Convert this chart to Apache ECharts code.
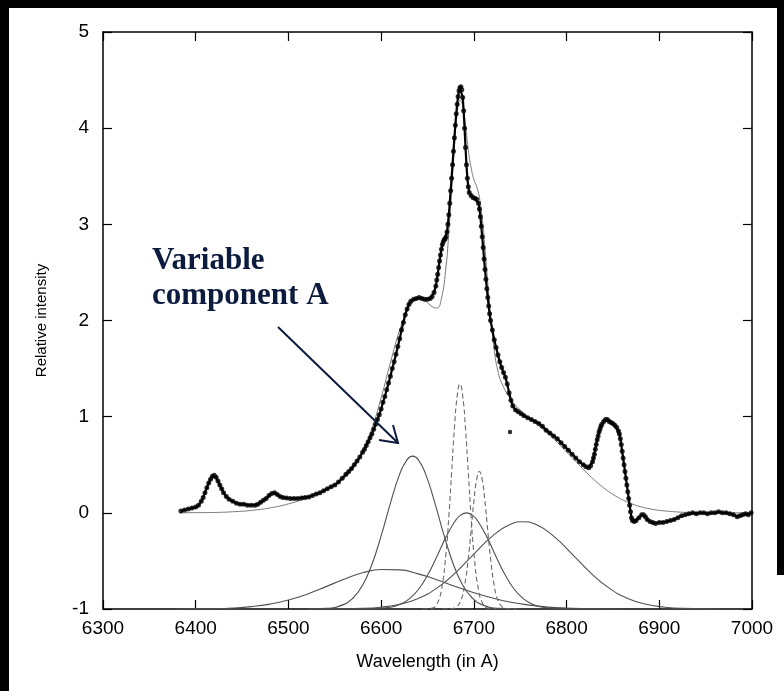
<!DOCTYPE html>
<html>
<head>
<meta charset="utf-8">
<script src="https://cdn.jsdelivr.net/npm/echarts@6/dist/echarts.min.js"></script>
<style>
  html, body { margin: 0; padding: 0; background: #000; }
  #main { width: 784px; height: 691px; }
</style>
</head>
<body>
<div id="main"></div>
<script>
// observed spectrum, [wavelength, relative intensity]
const observed = [
  [6384,0.02],[6388,0.03],[6392,0.04],[6396,0.05],[6400,0.06],[6403,0.08],[6406,0.12],[6408,0.16],
  [6410,0.21],[6412,0.26],[6414,0.31],[6416,0.35],[6418,0.38],[6420,0.39],[6422,0.37],[6424,0.33],
  [6426,0.29],[6428,0.25],[6430,0.21],[6433,0.17],[6436,0.14],[6440,0.12],[6444,0.10],[6448,0.09],
  [6452,0.09],[6456,0.08],[6460,0.08],[6464,0.08],[6467,0.09],[6470,0.11],[6473,0.13],[6476,0.15],
  [6479,0.18],[6482,0.20],[6485,0.21],[6488,0.19],[6491,0.17],[6494,0.16],[6498,0.155],[6502,0.15],
  [6506,0.15],[6510,0.15],[6514,0.155],[6518,0.16],[6522,0.165],[6526,0.18],[6530,0.195],[6534,0.21],
  [6538,0.23],[6542,0.25],[6546,0.27],[6550,0.29],[6554,0.32],[6558,0.36],[6562,0.40],[6565,0.43],
  [6568,0.46],[6571,0.50],[6574,0.54],[6577,0.58],[6580,0.63],[6582,0.66],[6584,0.70],[6586,0.74],
  [6588,0.78],[6590,0.82],[6592,0.87],[6594,0.92],[6596,0.97],[6598,1.02],[6600,1.08],[6602,1.15],
  [6604,1.21],[6606,1.28],[6608,1.35],[6610,1.42],[6612,1.50],[6614,1.57],[6616,1.65],[6618,1.73],
  [6620,1.81],[6622,1.90],[6624,1.98],[6626,2.06],[6628,2.12],[6630,2.17],[6632,2.20],[6635,2.22],
  [6638,2.23],[6641,2.24],[6644,2.23],[6647,2.22],[6650,2.22],[6653,2.23],[6655,2.25],[6657,2.29],
  [6659,2.36],[6660,2.42],[6661,2.48],[6662,2.55],[6663,2.62],[6664,2.68],[6665,2.74],[6666,2.79],
  [6667,2.82],[6668,2.84],[6669,2.85],[6670,2.87],[6671,2.92],[6672,3.00],[6673,3.10],[6674,3.22],
  [6675,3.35],[6676,3.48],[6677,3.62],[6678,3.76],[6679,3.90],[6680,4.03],[6681,4.15],[6682,4.25],
  [6683,4.33],[6684,4.39],[6685,4.42],[6686,4.43],[6687,4.40],[6688,4.32],[6689,4.18],[6690,4.00],
  [6691,3.80],[6692,3.62],[6693,3.48],[6694,3.39],[6695,3.33],[6697,3.30],[6699,3.28],[6701,3.27],
  [6703,3.26],[6705,3.22],[6706,3.16],[6707,3.08],[6708,2.98],[6709,2.87],[6710,2.76],[6711,2.64],
  [6712,2.53],[6713,2.43],[6714,2.33],[6715,2.24],[6716,2.15],[6717,2.07],[6718,2.00],[6720,1.90],
  [6722,1.80],[6724,1.72],[6726,1.64],[6728,1.57],[6730,1.51],[6732,1.46],[6734,1.41],[6736,1.34],
  [6738,1.25],[6740,1.17],[6742,1.11],[6745,1.07],[6748,1.05],[6751,1.03],[6754,1.01],[6758,0.99],
  [6762,0.97],[6766,0.95],[6770,0.93],[6774,0.90],[6778,0.86],[6782,0.83],[6786,0.80],[6790,0.77],
  [6794,0.73],[6798,0.69],[6802,0.65],[6806,0.61],[6810,0.57],[6814,0.53],[6818,0.50],[6821,0.48],
  [6824,0.47],[6826,0.49],[6828,0.53],[6829,0.57],[6830,0.61],[6831,0.66],[6832,0.71],[6833,0.76],
  [6834,0.80],[6835,0.84],[6836,0.87],[6837,0.90],[6838,0.92],[6840,0.95],[6842,0.97],[6844,0.97],
  [6846,0.95],[6848,0.94],[6850,0.93],[6852,0.91],[6854,0.89],[6856,0.85],[6857,0.82],[6858,0.77],
  [6859,0.71],[6860,0.64],[6861,0.57],[6862,0.50],[6863,0.43],[6864,0.36],[6865,0.29],[6866,0.22],
  [6867,0.15],[6868,0.08],[6869,0.01],[6870,-0.05],[6871,-0.08],[6873,-0.09],[6875,-0.08],[6878,-0.05],
  [6881,-0.02],[6883,-0.02],[6885,-0.04],[6887,-0.07],[6890,-0.09],[6893,-0.10],[6896,-0.11],[6900,-0.10],
  [6904,-0.10],[6908,-0.09],[6912,-0.08],[6916,-0.07],[6920,-0.05],[6924,-0.03],[6928,-0.02],[6932,-0.01],
  [6936,0.00],[6940,-0.01],[6944,0.00],[6948,0.00],[6952,-0.01],[6956,0.00],[6960,0.00],[6964,0.01],
  [6968,0.00],[6972,0.00],[6976,-0.01],[6980,-0.02],[6984,-0.04],[6987,-0.03],[6990,-0.02],[6993,-0.01],
  [6996,-0.02],[6999,0.00]
];
const outlier = [[6739, 0.84]];

// total fit
const fitCurve = [
  [6383,0.0],[6400,0.002],[6420,0.004],[6440,0.011],[6460,0.025],[6480,0.051],[6500,0.093],[6520,0.155],
  [6540,0.236],[6560,0.36],[6570,0.467],[6580,0.631],[6590,0.874],[6600,1.197],[6610,1.562],[6620,1.902],
  [6628,2.1],[6634,2.189],[6640,2.223],[6648,2.198],[6655,2.144],[6660,2.13],[6665,2.226],[6670,2.567],
  [6673,2.923],[6676,3.36],[6679,3.807],[6682,4.146],[6685,4.291],[6688,4.234],[6691,4.025],[6694,3.776],
  [6697,3.592],[6700,3.466],[6703,3.394],[6706,3.279],[6709,3.065],[6712,2.752],[6715,2.389],[6718,2.049],
  [6722,1.69],[6726,1.472],[6731,1.33],[6740,1.179],[6750,1.071],[6760,0.985],[6770,0.905],[6780,0.823],
  [6790,0.733],[6800,0.634],[6810,0.533],[6820,0.433],[6830,0.341],[6840,0.26],[6850,0.192],[6860,0.137],
  [6870,0.095],[6880,0.063],[6890,0.041],[6900,0.026],[6920,0.009],[6940,0.003],[6960,0.001],[6996,0]
];

// gaussian components (drawn on baseline -1)
const compBroad = [
  [6380,-1],[6400,-0.998],[6420,-0.996],[6440,-0.989],[6460,-0.975],[6480,-0.949],[6500,-0.907],[6520,-0.846],
  [6540,-0.77],[6560,-0.69],[6580,-0.624],[6600,-0.59],[6620,-0.593],[6640,-0.635],[6660,-0.695],[6680,-0.765],
  [6700,-0.83],[6720,-0.885],[6740,-0.93],[6760,-0.96],[6780,-0.98],[6800,-0.99],[6830,-0.998],[6860,-1]
];
const compA = [
  [6520,-1],[6540,-0.994],[6560,-0.952],[6570,-0.883],[6580,-0.752],[6590,-0.537],[6600,-0.239],[6610,0.101],
  [6620,0.403],[6628,0.554],[6634,0.59],[6640,0.554],[6648,0.403],[6658,0.101],[6668,-0.239],[6678,-0.537],
  [6688,-0.752],[6698,-0.883],[6708,-0.952],[6728,-0.994],[6750,-1]
];
const compC = [
  [6570,-1],[6590,-0.998],[6610,-0.982],[6620,-0.954],[6630,-0.898],[6640,-0.8],[6650,-0.65],[6660,-0.456],
  [6670,-0.25],[6680,-0.082],[6686,-0.021],[6692,0],[6698,-0.021],[6704,-0.082],[6714,-0.25],[6724,-0.456],
  [6734,-0.65],[6744,-0.8],[6754,-0.898],[6764,-0.954],[6774,-0.982],[6794,-0.998],[6814,-1]
];
const compD = [
  [6540,-1],[6580,-0.994],[6600,-0.981],[6620,-0.951],[6640,-0.89],[6660,-0.783],[6680,-0.624],[6700,-0.429],
  [6720,-0.242],[6740,-0.117],[6753,-0.092],[6766,-0.117],[6786,-0.242],[6806,-0.429],[6826,-0.624],[6846,-0.783],
  [6866,-0.89],[6886,-0.951],[6906,-0.981],[6926,-0.994],[6966,-1]
];
const dashE = [
  [6645,-1],[6655,-0.991],[6660,-0.951],[6665,-0.802],[6670,-0.416],[6673,-0.038],[6676,0.419],[6679,0.874],
  [6682,1.214],[6685,1.34],[6688,1.214],[6691,0.874],[6694,0.419],[6697,-0.038],[6700,-0.416],[6705,-0.802],
  [6710,-0.951],[6715,-0.991],[6725,-1]
];
const dashF = [
  [6666,-1],[6676,-0.997],[6681,-0.981],[6686,-0.91],[6690,-0.757],[6694,-0.472],[6697,-0.184],[6700,0.115],
  [6703,0.344],[6706,0.43],[6709,0.344],[6712,0.115],[6715,-0.184],[6718,-0.472],[6722,-0.757],[6726,-0.91],
  [6731,-0.981],[6736,-0.997],[6746,-1]
];

const labelFont = { fontFamily: 'Liberation Sans', fontSize: 19, color: '#000' };

function compLine(data, dashed) {
  return {
    type: 'line',
    data: data,
    smooth: true,
    showSymbol: false,
    silent: true,
    z: 1,
    lineStyle: {
      color: dashed ? '#6a6a6a' : '#505050',
      width: 1.1,
      type: dashed ? [5, 3] : 'solid'
    }
  };
}

const chart = echarts.init(document.getElementById('main'));

const option = {
  backgroundColor: '#000',
  animation: false,
  graphic: [
    { type: 'rect', z: -10, shape: { x: 9, y: 8, width: 768, height: 683 }, style: { fill: '#fff' } },
    { type: 'rect', z: -10, shape: { x: 9, y: 575, width: 775, height: 116 }, style: { fill: '#fff' } },
    {
      type: 'text', left: 152, top: 243, z: 50,
      style: {
        text: 'Variable\ncomponent A',
        font: 'bold 31px "Liberation Serif"',
        fill: '#0d1b3e',
        lineHeight: 35
      }
    },
    {
      type: 'line', z: 50,
      shape: { x1: 278, y1: 327, x2: 398, y2: 443 },
      style: { stroke: '#0d1b3e', lineWidth: 2 }
    },
    {
      type: 'polyline', z: 50,
      shape: { points: [[393, 425], [398, 443], [379, 440]] },
      style: { stroke: '#0d1b3e', lineWidth: 2, fill: null }
    }
  ],
  grid: { left: 103, right: 32, top: 32, bottom: 82, show: false },
  xAxis: [
    {
      type: 'value', min: 6300, max: 7000, interval: 100, position: 'bottom',
      name: 'Wavelength (in A)', nameLocation: 'middle', nameGap: 44,
      nameTextStyle: { fontFamily: 'Liberation Sans', fontSize: 18, color: '#000' },
      axisLine: { show: true, onZero: false, lineStyle: { color: '#000', width: 1.5 } },
      axisTick: { inside: true, length: 9, lineStyle: { color: '#000', width: 1.2 } },
      axisLabel: Object.assign({ margin: 10, formatter: function (v) { return String(v); } }, labelFont),
      splitLine: { show: false }
    },
    {
      type: 'value', min: 6300, max: 7000, interval: 100, position: 'top',
      axisLine: { show: true, onZero: false, lineStyle: { color: '#000', width: 1.5 } },
      axisTick: { inside: true, length: 9, lineStyle: { color: '#000', width: 1.2 } },
      axisLabel: { show: false },
      splitLine: { show: false }
    }
  ],
  yAxis: [
    {
      type: 'value', min: -1, max: 5, interval: 1, position: 'left',
      name: 'Relative intensity', nameLocation: 'middle', nameGap: 54, nameRotate: 90,
      nameTextStyle: { fontFamily: 'Liberation Sans', fontSize: 15, color: '#000' },
      axisLine: { show: true, onZero: false, lineStyle: { color: '#000', width: 1.5 } },
      axisTick: { inside: true, length: 9, lineStyle: { color: '#000', width: 1.2 } },
      axisLabel: Object.assign({ margin: 14 }, labelFont),
      splitLine: { show: false }
    },
    {
      type: 'value', min: -1, max: 5, interval: 1, position: 'right',
      axisLine: { show: true, onZero: false, lineStyle: { color: '#000', width: 1.5 } },
      axisTick: { inside: true, length: 9, lineStyle: { color: '#000', width: 1.2 } },
      axisLabel: { show: false },
      splitLine: { show: false }
    }
  ],
  series: [
    compLine(compBroad, false),
    compLine(compA, false),
    compLine(compC, false),
    compLine(compD, false),
    compLine(dashE, true),
    compLine(dashF, true),
    {
      type: 'line', data: fitCurve, smooth: true, showSymbol: false, silent: true, z: 2,
      lineStyle: { color: '#7a7a7a', width: 1 }
    },
    {
      type: 'line', data: observed, showSymbol: false, silent: true, z: 3,
      lineStyle: { color: '#000', width: 2.2 }
    },
    {
      type: 'scatter', data: observed, symbol: 'circle', symbolSize: 5, silent: true, z: 4,
      itemStyle: { color: '#000' }
    },
    {
      type: 'scatter', data: outlier, symbol: 'circle', symbolSize: 4.5, silent: true, z: 4,
      itemStyle: { color: '#000' }
    }
  ]
};

chart.setOption(option);
</script>
</body>
</html>
